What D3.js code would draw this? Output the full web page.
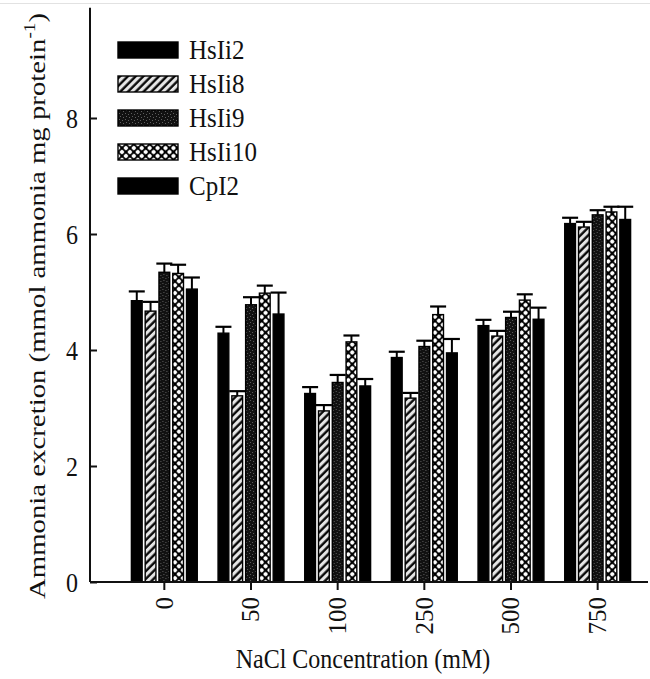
<!DOCTYPE html>
<meta charset="utf-8">
<head>
  <title>Ammonia excretion</title>
  <style>
    body { margin: 0; background: #fff; }
    svg text { font-family: "Liberation Serif", "Times New Roman", serif; fill: #111; }
    .axis path, .axis line { stroke: #111; stroke-width: 2; }
  </style>
  <script src="https://d3js.org/d3.v7.min.js"></script>
</head>
<body>
  <svg id="chart" width="650" height="679"></svg>
  <script>
var categories = ["0", "50", "100", "250", "500", "750"];
var series = ["HsIi2", "HsIi8", "HsIi9", "HsIi10", "CpI2"];

// mean values per NaCl concentration
var hsIi2  = [4.85, 4.29, 3.25, 3.87, 4.42, 6.18];
var hsIi8  = [4.67, 3.21, 2.95, 3.17, 4.24, 6.12];
var hsIi9  = [5.34, 4.78, 3.44, 4.06, 4.56, 6.33];
var hsIi10 = [5.32, 4.98, 4.14, 4.61, 4.86, 6.38];
var cpI2   = [5.05, 4.62, 3.38, 3.95, 4.53, 6.25];

// upper error bars
var errHsIi2  = [0.16, 0.11, 0.11, 0.10, 0.10, 0.10];
var errHsIi8  = [0.16, 0.08, 0.10, 0.09, 0.09, 0.09];
var errHsIi9  = [0.15, 0.13, 0.13, 0.10, 0.10, 0.08];
var errHsIi10 = [0.15, 0.13, 0.11, 0.14, 0.10, 0.09];
var errCpI2   = [0.20, 0.37, 0.12, 0.24, 0.20, 0.22];

var yTicks = [0, 2, 4, 6, 8];

var means = [hsIi2, hsIi8, hsIi9, hsIi10, cpI2];
var errs = [errHsIi2, errHsIi8, errHsIi9, errHsIi10, errCpI2];
var fills = ["#000", "url(#hatch)", "url(#stipple)", "url(#lattice)", "#000"];
var serif = "Liberation Serif";

var svg = d3.select("#chart");

// patterns
var defs = svg.append("defs");

var hatch = defs.append("pattern")
  .attr("id", "hatch")
  .attr("patternUnits", "userSpaceOnUse")
  .attr("width", 5.5).attr("height", 5.5)
  .attr("patternTransform", "rotate(45)");
hatch.append("rect").attr("width", 5.5).attr("height", 5.5).attr("fill", "#e6e6e6");
hatch.append("line").attr("x1", 1.5).attr("y1", 0).attr("x2", 1.5).attr("y2", 5.5)
  .attr("stroke", "#000").attr("stroke-width", 2.3);

var stipple = defs.append("pattern")
  .attr("id", "stipple")
  .attr("patternUnits", "userSpaceOnUse")
  .attr("width", 6).attr("height", 6);
stipple.append("rect").attr("width", 6).attr("height", 6).attr("fill", "#111");
[[1, 1], [4, 2], [2, 4], [5, 5]].forEach(function(p) {
  stipple.append("rect").attr("x", p[0]).attr("y", p[1]).attr("width", 1).attr("height", 1)
    .attr("fill", "#5e5e5e");
});

var lattice = defs.append("pattern")
  .attr("id", "lattice")
  .attr("patternUnits", "userSpaceOnUse")
  .attr("width", 5.6).attr("height", 5.6)
  .attr("patternTransform", "rotate(45)");
lattice.append("rect").attr("width", 5.6).attr("height", 5.6).attr("fill", "#000");
lattice.append("circle").attr("cx", 2.8).attr("cy", 2.8).attr("r", 2.1).attr("fill", "#fff");

// scales
var x = d3.scaleBand()
  .domain(categories)
  .range([121, 641])
  .paddingInner(0.24)
  .paddingOuter(0.12);

var xs = d3.scaleBand()
  .domain(series)
  .range([0, x.bandwidth()])
  .paddingInner(0.22);

var y = d3.scaleLinear()
  .domain([0, 10])
  .range([582, 2]);

// faint scan border at top
svg.append("line").attr("x1", 0).attr("x2", 650).attr("y1", 3.5).attr("y2", 3.5)
  .attr("stroke", "#e2e2e2").attr("stroke-width", 1);

// bars
var groups = svg.append("g").selectAll("g")
  .data(categories)
  .join("g")
  .attr("transform", function(d) { return "translate(" + x(d) + ",0)"; });

series.forEach(function(s, si) {
  groups.append("rect")
    .attr("x", xs(s))
    .attr("width", xs.bandwidth())
    .attr("y", function(d, i) { return y(means[si][i]); })
    .attr("height", function(d, i) { return y(0) - y(means[si][i]); })
    .attr("fill", fills[si])
    .attr("stroke", "#000")
    .attr("stroke-width", 1.4);

  groups.append("line")
    .attr("x1", xs(s) + xs.bandwidth() / 2)
    .attr("x2", xs(s) + xs.bandwidth() / 2)
    .attr("y1", function(d, i) { return y(means[si][i]); })
    .attr("y2", function(d, i) { return y(means[si][i] + errs[si][i]); })
    .attr("stroke", "#000").attr("stroke-width", 2);

  groups.append("line")
    .attr("x1", xs(s) + xs.bandwidth() / 2 - 8)
    .attr("x2", xs(s) + xs.bandwidth() / 2 + 8)
    .attr("y1", function(d, i) { return y(means[si][i] + errs[si][i]); })
    .attr("y2", function(d, i) { return y(means[si][i] + errs[si][i]); })
    .attr("stroke", "#000").attr("stroke-width", 2.2);
});

// y axis
var yAxis = svg.append("g")
  .attr("class", "axis")
  .attr("transform", "translate(90,0)")
  .call(d3.axisLeft(y).tickValues(yTicks).tickSizeInner(-7).tickSizeOuter(0).tickPadding(12));
yAxis.select(".domain").attr("d", "M0," + y(0) + "V" + y(9.9));
yAxis.selectAll("text")
  .attr("font-size", 24)
  .attr("font-family", serif)
  .attr("transform", "scale(1,1.18)");

// x axis
var xAxis = svg.append("g")
  .attr("class", "axis")
  .attr("transform", "translate(0," + y(0) + ")")
  .call(d3.axisBottom(x).tickSizeInner(8).tickSizeOuter(0));
xAxis.select(".domain").attr("d", "M90,0H648");
xAxis.selectAll("text")
  .attr("font-size", 25)
  .attr("font-family", serif)
  .attr("transform", "rotate(-90)")
  .attr("text-anchor", "end")
  .attr("x", -15)
  .attr("y", 0)
  .attr("dy", "0.33em");

// axis titles
svg.append("text")
  .attr("transform", "translate(363,668) scale(1,1.15)")
  .attr("text-anchor", "middle")
  .attr("font-family", serif)
  .attr("font-size", 24)
  .text("NaCl Concentration (mM)");

var yt = svg.append("text")
  .attr("transform", "translate(45,306) rotate(-90) scale(1.2,1)")
  .attr("text-anchor", "middle")
  .attr("font-family", serif)
  .attr("font-size", 24);
yt.append("tspan").text("Ammonia excretion (mmol ammonia mg protein");
yt.append("tspan").attr("font-size", 16).attr("dy", -10).text("-1");
yt.append("tspan").attr("dy", 10).text(")");

// legend
var legend = svg.append("g").selectAll("g")
  .data(series)
  .join("g")
  .attr("transform", function(d, i) { return "translate(118," + (50 + i * 34) + ")"; });

legend.append("rect")
  .attr("x", 0).attr("y", -8)
  .attr("width", 60).attr("height", 16)
  .attr("fill", function(d, i) { return fills[i]; })
  .attr("stroke", "#000").attr("stroke-width", 1.4);

legend.append("text")
  .attr("transform", "translate(71,8.5) scale(1,1.1)")
  .attr("font-family", serif)
  .attr("font-size", 25)
  .text(function(d) { return d; });
  </script>
</body>
</html>
